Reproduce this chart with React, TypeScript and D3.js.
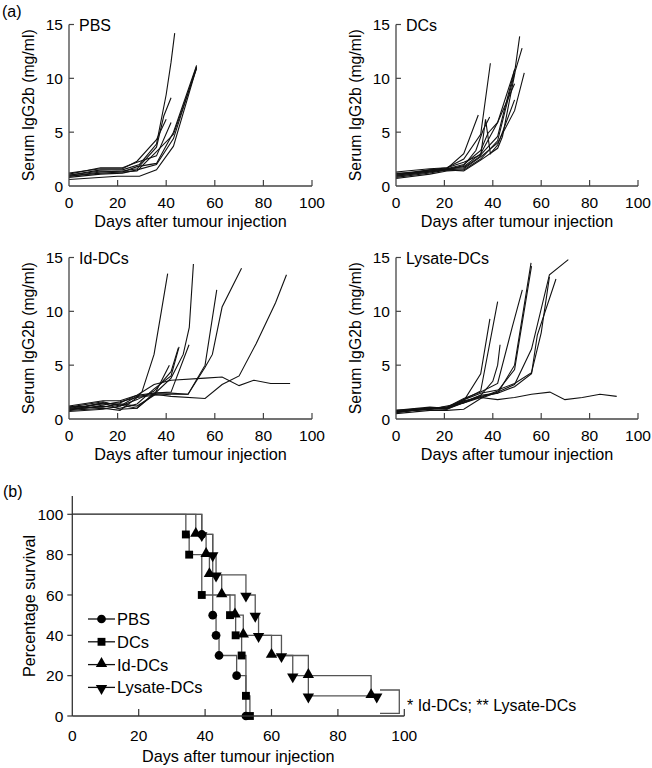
import React, { useEffect, useRef } from "react"
import * as d3 from "d3"

// serum IgG2b (mg/ml) per mouse, [day, value]
const pbsSerum = [
  [[0, 1.0], [13, 1.5], [22, 1.5], [29, 2.0], [36, 3.9], [40, 8.5], [42, 11.5], [43.5, 14.2]],
  [[0, 0.9], [13, 1.3], [22, 1.4], [28, 1.6], [36, 3.6], [39, 6.5], [42, 8.2]],
  [[0, 1.1], [13, 1.7], [22, 1.7], [28, 2.2], [36, 2.8], [42, 5.9]],
  [[0, 0.8], [13, 1.1], [22, 1.2], [28, 1.5], [36, 2.0], [43, 4.4], [52.5, 11.1]],
  [[0, 0.6], [20, 0.9], [29, 0.9], [36, 1.5], [43, 3.7], [52.5, 11.0]],
  [[0, 1.0], [13, 1.4], [22, 1.3], [28, 1.8], [36, 2.1], [43, 5.0], [52.5, 11.2]],
  [[0, 1.2], [13, 1.6], [22, 1.6], [28, 2.3], [36, 4.3], [40, 6.2]],
  [[0, 0.9], [13, 1.2], [22, 1.3], [28, 1.4], [36, 3.2], [43, 4.8], [52.5, 10.9]]
]

const dcSerum = [
  [[0, 1.2], [7, 1.2], [14, 1.5], [21, 1.7], [28, 2.5], [35, 4.8], [39, 11.4]],
  [[0, 1.0], [14, 1.4], [21, 1.6], [28, 3.0], [34, 6.6]],
  [[0, 0.9], [14, 1.3], [21, 1.5], [28, 1.9], [33, 3.3], [36, 5.2], [38.7, 6.4]],
  [[0, 1.1], [14, 1.5], [21, 1.6], [28, 1.8], [35, 3.0], [42, 5.9], [49.3, 11.0], [51.1, 13.9]],
  [[0, 0.8], [14, 1.2], [21, 1.5], [28, 1.4], [35, 2.4], [42, 3.5], [44, 4.6], [49.3, 10.7], [52.1, 12.8]],
  [[0, 1.0], [14, 1.4], [21, 1.5], [28, 1.6], [35, 2.7], [42, 4.0], [49, 7.0], [53, 10.5]],
  [[0, 1.3], [14, 1.6], [21, 1.7], [28, 2.2], [35, 2.9], [42, 4.6], [49, 10.8]],
  [[0, 0.7], [14, 1.1], [21, 1.4], [28, 1.5], [35, 2.5], [42, 4.2], [49, 10.5]],
  [[0, 1.1], [14, 1.4], [21, 1.6], [28, 2.0], [35, 3.3], [38, 4.9], [42, 5.9], [49, 9.5]],
  [[0, 0.9], [14, 1.3], [21, 1.6], [28, 1.7], [35, 2.8], [37, 6.2], [39, 3.0], [42, 3.8], [49, 8.0]]
]

const idDcSerum = [
  [[0, 0.9], [7, 1.0], [14, 1.3], [21, 1.6], [28, 2.0], [30, 2.5], [35, 6.0], [38, 10.0], [40.6, 13.5]],
  [[0, 1.1], [7, 1.2], [14, 1.5], [21, 1.3], [28, 1.0], [35, 2.3], [42, 3.8], [47, 6.0], [49.5, 8.5], [51.2, 14.4]],
  [[0, 0.8], [14, 1.0], [21, 0.8], [28, 2.0], [35, 2.2], [42, 2.3], [49, 2.3], [56, 5.0], [60.8, 12.0]],
  [[0, 1.0], [14, 1.4], [21, 1.5], [28, 2.2], [35, 2.4], [42, 2.4], [49, 2.3], [56, 4.8], [59, 6.0], [63, 10.4], [71, 14.0]],
  [[0, 0.7], [14, 0.9], [21, 1.2], [28, 2.1], [35, 2.3], [42, 2.1], [56, 1.9], [63, 3.2], [70, 4.0], [77, 7.0], [85, 10.8], [89.5, 13.4]],
  [[0, 1.2], [14, 1.7], [21, 1.7], [28, 2.2], [35, 3.2], [42, 3.6], [56, 3.8], [63, 3.9], [70, 3.1], [76, 3.6], [83, 3.3], [91, 3.3]],
  [[0, 0.9], [14, 1.2], [21, 1.0], [28, 1.4], [35, 2.8], [42, 4.0], [45.3, 6.7]],
  [[0, 1.0], [14, 1.1], [21, 1.4], [28, 1.2], [35, 2.2], [41.3, 5.0]],
  [[0, 0.8], [14, 1.5], [21, 0.9], [28, 1.0], [35, 2.4], [42, 2.5], [49.4, 6.9]],
  [[0, 1.1], [14, 1.6], [21, 1.2], [28, 1.8], [35, 2.6], [42, 4.4], [45, 6.6]]
]

const lysateSerum = [
  [[0, 0.6], [7, 0.8], [14, 0.9], [21, 1.0], [28, 1.7], [35, 4.2], [38.8, 9.3]],
  [[0, 0.7], [7, 0.9], [14, 1.0], [21, 1.1], [28, 1.8], [35, 2.6], [42, 10.9]],
  [[0, 0.7], [14, 0.9], [21, 1.0], [28, 1.5], [35, 2.2], [40, 3.5], [42, 5.0], [43, 6.9]],
  [[0, 0.8], [14, 1.0], [21, 1.1], [28, 1.9], [35, 2.5], [42, 3.3], [48, 8.5], [52.2, 12.0]],
  [[0, 0.6], [14, 1.0], [21, 0.9], [28, 1.6], [35, 2.2], [42, 2.4], [49, 5.0], [55.8, 14.5]],
  [[0, 0.7], [14, 0.9], [21, 1.2], [28, 1.5], [35, 2.0], [42, 2.6], [49, 4.6], [56, 14.2]],
  [[0, 0.5], [14, 0.8], [21, 0.8], [28, 0.9], [35, 1.9], [42, 2.5], [49, 3.2], [56, 6.5], [63.4, 13.4], [71.2, 14.8]],
  [[0, 0.7], [14, 1.0], [21, 0.9], [28, 1.5], [35, 2.1], [42, 2.4], [49, 3.0], [56, 4.2], [58.4, 7.8], [66.1, 13.0]],
  [[0, 0.6], [14, 1.0], [21, 1.0], [28, 1.7], [35, 2.0], [42, 1.8], [49, 2.0], [56, 2.3], [63.6, 2.5], [69.8, 1.8], [77, 2.0], [84.3, 2.3], [91.2, 2.1]],
  [[0, 0.8], [14, 1.1], [21, 1.0], [28, 1.8], [35, 2.4], [42, 2.7], [49, 3.3], [56, 4.3], [60, 8.0], [63.4, 13.2]]
]

// Kaplan-Meier steps, [day, % survival]
const pbsSurvival = [[0, 100], [39, 90], [42.3, 50], [43.3, 40], [44.2, 30], [49.5, 20], [52.3, 0]]
const dcSurvival = [[0, 100], [34.2, 90], [35.2, 80], [39, 60], [47.5, 50], [49.2, 40], [51, 30], [52.3, 10], [53.5, 0]]
const idDcSurvival = [[0, 100], [37.2, 90], [40.3, 80], [41.3, 70], [45, 60], [49, 50], [51.5, 40], [60, 30], [71.1, 20], [90, 10]]
const lysateSurvival = [[0, 100], [39, 90], [42.3, 80], [43.3, 70], [52.3, 60], [55.1, 50], [56.1, 40], [63, 30], [66.4, 20], [71.1, 10], [91.7, 10]]

const groupNames = ["PBS", "DCs", "Id-DCs", "Lysate-DCs"]
const serumTicks = [0, 5, 10, 15]
const dayTicks = [0, 20, 40, 60, 80, 100]
const survivalTicks = [0, 20, 40, 60, 80, 100]

const FONT = "'Liberation Sans', Arial, Helvetica, sans-serif"

const App = () => {
  const ref = useRef<SVGSVGElement>(null)

  useEffect(() => {
    const svg = d3.select(ref.current)
    svg.selectAll("*").remove()
    svg.attr("font-family", FONT)

    const serumSets = [pbsSerum, dcSerum, idDcSerum, lysateSerum]
    const boxes = [
      { x0: 69, x1: 312, yTop: 24.5, yBot: 186 },
      { x0: 396, x1: 638, yTop: 24.5, yBot: 186 },
      { x0: 69, x1: 312, yTop: 257.5, yBot: 419 },
      { x0: 396, x1: 638, yTop: 257.5, yBot: 419 }
    ]

    svg.append("text").attr("x", 2).attr("y", 17).attr("font-size", 16).text("(a)")
    svg.append("text").attr("x", 3).attr("y", 497).attr("font-size", 16).text("(b)")

    serumSets.forEach((set, k) => {
      const b = boxes[k]
      const x = d3.scaleLinear().domain([0, 100]).range([b.x0, b.x1])
      const y = d3.scaleLinear().domain([0, 15]).range([b.yBot, b.yTop])
      const g = svg.append("g")

      const line = d3.line<number[]>().x(d => x(d[0])).y(d => y(d[1]))
      g.selectAll("path.mouse")
        .data(set)
        .enter()
        .append("path")
        .attr("class", "mouse")
        .attr("d", d => line(d as number[][]))
        .attr("fill", "none")
        .attr("stroke", "#111")
        .attr("stroke-width", 1.1)

      // axes
      g.append("line").attr("x1", x(0)).attr("x2", x(0)).attr("y1", y(15)).attr("y2", y(0))
        .attr("stroke", "#444").attr("stroke-width", 1.3)
      g.append("line").attr("x1", x(0)).attr("x2", x(100)).attr("y1", y(0)).attr("y2", y(0))
        .attr("stroke", "#444").attr("stroke-width", 1.3)

      serumTicks.forEach(t => {
        if (t > 0) {
          g.append("line").attr("x1", x(0)).attr("x2", x(0) + 5).attr("y1", y(t)).attr("y2", y(t))
            .attr("stroke", "#444").attr("stroke-width", 1.2)
        }
        g.append("text").attr("x", x(0) - 6).attr("y", y(t)).attr("dy", "0.36em")
          .attr("text-anchor", "end").attr("font-size", 15.5).text(t)
      })
      dayTicks.forEach(t => {
        if (t > 0) {
          g.append("line").attr("x1", x(t)).attr("x2", x(t)).attr("y1", y(0)).attr("y2", y(0) - 6)
            .attr("stroke", "#444").attr("stroke-width", 1.2)
        }
        g.append("text").attr("x", x(t)).attr("y", y(0) + 21.5)
          .attr("text-anchor", "middle").attr("font-size", 15.5).text(t)
      })

      g.append("text").attr("x", (x(0) + x(100)) / 2).attr("y", y(0) + 41)
        .attr("text-anchor", "middle").attr("font-size", 16.2).text("Days after tumour injection")
      g.append("text")
        .attr("transform", `translate(${x(0) - 35},${(y(0) + y(15)) / 2}) rotate(-90)`)
        .attr("text-anchor", "middle").attr("font-size", 15.8).text("Serum IgG2b (mg/ml)")
      g.append("text").attr("x", x(0) + 10).attr("y", y(15) + 6)
        .attr("font-size", 16).text(groupNames[k])
    })

    // (b) survival
    const sx = d3.scaleLinear().domain([0, 100]).range([72.3, 404.3])
    const sy = d3.scaleLinear().domain([0, 100]).range([716, 514.3])
    const sg = svg.append("g")

    const symbols = [d3.symbolCircle, d3.symbolSquare, d3.symbolTriangle, d3.symbolTriangle]
    const symSizes = [60, 62, 56, 56]
    const symRot = [0, 0, 0, 180]
    const marker = (sel: any, k: number) => sel
      .attr("d", d3.symbol().type(symbols[k]).size(symSizes[k])())
      .attr("fill", "#000")

    const survivalSets = [pbsSurvival, dcSurvival, idDcSurvival, lysateSurvival]
    const step = d3.line<number[]>().x(d => sx(d[0])).y(d => sy(d[1])).curve(d3.curveStepAfter)

    survivalSets.forEach(set => {
      sg.append("path").attr("d", step(set as number[][]))
        .attr("fill", "none").attr("stroke", "#555").attr("stroke-width", 1.3)
    })
    survivalSets.forEach((set, k) => {
      sg.selectAll(`path.m${k}`)
        .data(set.slice(1))
        .enter()
        .append("path")
        .attr("class", `m${k}`)
        .call(marker, k)
        .attr("transform", d => `translate(${sx(d[0])},${sy(d[1]) + (k === 2 ? -1 : k === 3 ? 1 : 0)}) rotate(${symRot[k]})`)
    })

    // bracket
    sg.append("path").attr("d", "M380,690 H399.3 V713.3 H380")
      .attr("fill", "none").attr("stroke", "#555").attr("stroke-width", 1.3)
    sg.append("text").attr("x", 407).attr("y", 710.5).attr("font-size", 16)
      .text("* Id-DCs; ** Lysate-DCs")

    // axes
    sg.append("line").attr("x1", sx(0)).attr("x2", sx(0)).attr("y1", 496).attr("y2", sy(0))
      .attr("stroke", "#333").attr("stroke-width", 1.3)
    sg.append("line").attr("x1", sx(0)).attr("x2", sx(100)).attr("y1", sy(0)).attr("y2", sy(0))
      .attr("stroke", "#333").attr("stroke-width", 1.3)
    survivalTicks.forEach(t => {
      sg.append("line").attr("x1", sx(0) - 5).attr("x2", sx(0)).attr("y1", sy(t)).attr("y2", sy(t))
        .attr("stroke", "#333").attr("stroke-width", 1.2)
      sg.append("text").attr("x", sx(0) - 9).attr("y", sy(t)).attr("dy", "0.36em")
        .attr("text-anchor", "end").attr("font-size", 15.5).text(t)
    })
    dayTicks.forEach(t => {
      if (t > 0) {
        sg.append("line").attr("x1", sx(t)).attr("x2", sx(t)).attr("y1", sy(0)).attr("y2", sy(0) - 7)
          .attr("stroke", "#333").attr("stroke-width", 1.2)
      }
      sg.append("text").attr("x", sx(t)).attr("y", sy(0) + 24.5)
        .attr("text-anchor", "middle").attr("font-size", 15.5).text(t)
    })
    sg.append("text").attr("x", (sx(0) + sx(100)) / 2).attr("y", 762)
      .attr("text-anchor", "middle").attr("font-size", 16.2).text("Days after tumour injection")
    sg.append("text")
      .attr("transform", `translate(35,606) rotate(-90)`)
      .attr("text-anchor", "middle").attr("font-size", 16.2).text("Percentage survival")

    // legend
    groupNames.forEach((name, k) => {
      const ly = 619 + k * 22.8
      sg.append("line").attr("x1", 88).attr("x2", 115).attr("y1", ly).attr("y2", ly)
        .attr("stroke", "#111").attr("stroke-width", 1.3)
      sg.append("path").call(marker, k)
        .attr("transform", `translate(101.5,${ly + (k === 2 ? -1 : k === 3 ? 1 : 0)}) rotate(${symRot[k]})`)
      sg.append("text").attr("x", 117).attr("y", ly).attr("dy", "0.36em")
        .attr("font-size", 16.5).text(name)
    })
  }, [])

  return (
    <svg ref={ref} width={652} height={768}
      style={{ position: "absolute", left: 0, top: 0, background: "#fff" }} />
  )
}

export default App
